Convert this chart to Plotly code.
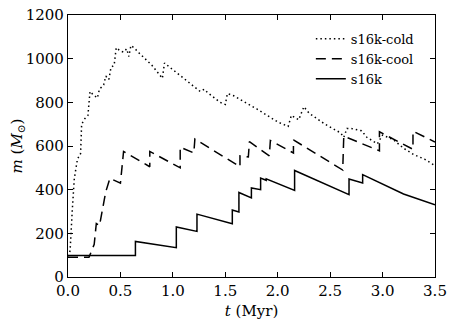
import plotly.graph_objects as go

# s16k (solid)
s16k_t = [0.0, 0.643, 0.643, 1.033, 1.033, 1.23, 1.23, 1.567, 1.567, 1.63, 1.63, 1.749, 1.749,
          1.837, 1.837, 1.89, 1.89, 2.161, 2.161, 2.68, 2.68, 2.81, 2.81, 3.2, 3.5]
s16k_m = [99, 99, 163, 134, 229, 209, 288, 244, 307, 298, 387, 362, 408,
          400, 453, 443, 450, 397, 488, 377, 449, 431, 469, 380, 331]

# s16k-cool (dashed)
cool_t = [0.0, 0.2, 0.25, 0.27, 0.30, 0.36, 0.40, 0.50, 0.53, 0.78, 0.78, 1.07, 1.07, 1.2, 1.21,
          1.64, 1.64, 1.72, 1.73, 1.92, 1.93, 2.15, 2.15, 2.62, 2.63, 2.97, 2.97, 3.29, 3.29, 3.5]
cool_m = [90, 90, 150, 245, 235, 390, 452, 430, 575, 505, 575, 500, 595, 568, 632,
          505, 555, 550, 620, 555, 625, 568, 628, 490, 645, 578, 665, 585, 668, 618]

# s16k-cold (dotted)
cold_t = [0.0, 0.02, 0.04, 0.06, 0.09, 0.12, 0.13, 0.16, 0.19, 0.21, 0.24, 0.28, 0.30, 0.34,
          0.36, 0.39, 0.41, 0.44, 0.46, 0.50, 0.53, 0.56, 0.58, 0.60, 0.63, 0.68, 0.80, 0.90,
          0.92, 1.00, 1.10, 1.20, 1.26, 1.30, 1.33, 1.45, 1.50, 1.52, 1.58, 1.67, 1.80, 2.00,
          2.05, 2.10, 2.13, 2.20, 2.25, 2.30, 2.45, 2.60, 2.63, 2.66, 2.70, 2.80, 2.85, 2.95,
          3.00, 3.10, 3.20, 3.30, 3.40, 3.50]
cold_m = [95, 120, 300, 450, 540, 565, 700, 725, 740, 850, 835, 820, 860, 880,
          920, 905, 960, 970, 1050, 1035, 1030, 1045, 1010, 1060, 1050, 1025, 970, 910,
          980, 950, 910, 875, 850, 860, 845, 800, 790, 840, 830, 805, 770, 710,
          700, 690, 740, 720, 780, 750, 700, 660, 640, 680, 680, 670, 640, 610,
          650, 630, 590, 560, 540, 510]

x_ticks = [0.0, 0.5, 1.0, 1.5, 2.0, 2.5, 3.0, 3.5]
x_labels = ["0.0", "0.5", "1.0", "1.5", "2.0", "2.5", "3.0", "3.5"]
y_ticks = [0, 200, 400, 600, 800, 1000, 1200]

FONT = "DejaVu Serif"

fig = go.Figure()
fig.add_trace(go.Scatter(x=cold_t, y=cold_m, mode="lines", name="s16k-cold",
                         line=dict(color="black", width=1.5, dash="1.5px,3px")))
fig.add_trace(go.Scatter(x=cool_t, y=cool_m, mode="lines", name="s16k-cool",
                         line=dict(color="black", width=1.5, dash="10px,6px")))
fig.add_trace(go.Scatter(x=s16k_t, y=s16k_m, mode="lines", name="s16k",
                         line=dict(color="black", width=1.5)))

axis_common = dict(showgrid=False, zeroline=False, showline=True, linecolor="black",
                   linewidth=1.2, mirror="allticks", ticks="inside", ticklen=5,
                   tickcolor="black", tickwidth=1, automargin=False,
                   ticklabeloverflow="allow",
                   tickfont=dict(family=FONT, size=15, color="black"))

# The page body adds an 8px offset; plot area lands at x 68..435, y 15..277 in the window
fig.update_layout(
    width=450, height=319,
    margin=dict(l=60, r=23, t=7, b=50),
    paper_bgcolor="white", plot_bgcolor="white",
    font=dict(family=FONT, color="black"),
    xaxis=dict(range=[0, 3.5], tickvals=x_ticks, ticktext=x_labels,
               title=dict(text="<i>t</i> (Myr)", font=dict(family=FONT, size=15), standoff=6),
               **axis_common),
    yaxis=dict(range=[0, 1200], tickvals=y_ticks,
               title=dict(text="<i>m</i> (<i>M</i><sub>⊙</sub>)", font=dict(family=FONT, size=15), standoff=8),
               **axis_common),
    legend=dict(x=0.956, y=0.966, xanchor="right", yanchor="top", bgcolor="rgba(0,0,0,0)",
                borderwidth=0, font=dict(family=FONT, size=13), tracegroupgap=0,
                itemwidth=30),
    showlegend=True,
)

fig.write_html("out.html")
